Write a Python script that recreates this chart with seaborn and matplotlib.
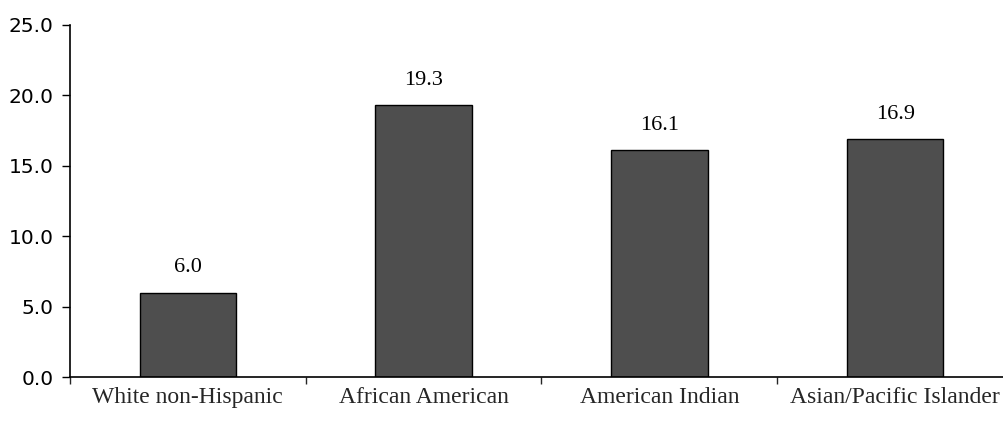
import matplotlib
matplotlib.use("Agg")
import matplotlib.pyplot as plt
import seaborn as sns
import pandas as pd
from matplotlib.ticker import FixedLocator

# Rates by group
categories = ["White non-Hispanic", "African American", "American Indian", "Asian/Pacific Islander"]
values = [6.0, 19.3, 16.1, 16.9]
y_ticks = [0, 5, 10, 15, 20, 25]

df = pd.DataFrame({"group": categories, "rate": values})

sns.set_style("white")
plt.rcParams["font.family"] = ["Liberation Serif", "DejaVu Serif"]

fig = plt.figure(figsize=(10.04, 4.23), dpi=100)
# axes runs a little past the right edge of the canvas
ax = fig.add_axes([70 / 1004, 46 / 423, 943 / 1004, 352 / 423])

sns.barplot(data=df, x="group", y="rate", ax=ax, color="#4e4e4e",
            edgecolor="black", linewidth=1.0, width=0.41, saturation=1)

ax.set_xlim(-0.5, 3.5)
ax.set_ylim(0, 25)
ax.set_yticks(y_ticks)
ax.set_yticklabels([f"{v:.1f}" for v in y_ticks], fontsize=14.5, family=["DejaVu Sans"])
ax.tick_params(axis="y", direction="out", length=6, width=1, pad=6, left=True, colors="black")

# category labels centred, tick marks drawn between categories
ax.tick_params(axis="x", which="major", length=0, pad=7, labelsize=17)
ax.xaxis.set_minor_locator(FixedLocator([-0.5, 0.5, 1.5, 2.5, 3.5]))
ax.tick_params(axis="x", which="minor", direction="out", length=5, width=1, bottom=True)

ax.set_xlabel("")
ax.set_ylabel("")
for side in ("top", "right"):
    ax.spines[side].set_visible(False)
for side in ("left", "bottom"):
    ax.spines[side].set_color("black")
    ax.spines[side].set_linewidth(1.2)

for i, v in enumerate(values):
    ax.annotate(f"{v:.1f}", xy=(i, v), xytext=(0, 11), textcoords="offset points",
                ha="center", va="bottom", fontsize=16, color="black")

fig.savefig("out.png", dpi=100)
